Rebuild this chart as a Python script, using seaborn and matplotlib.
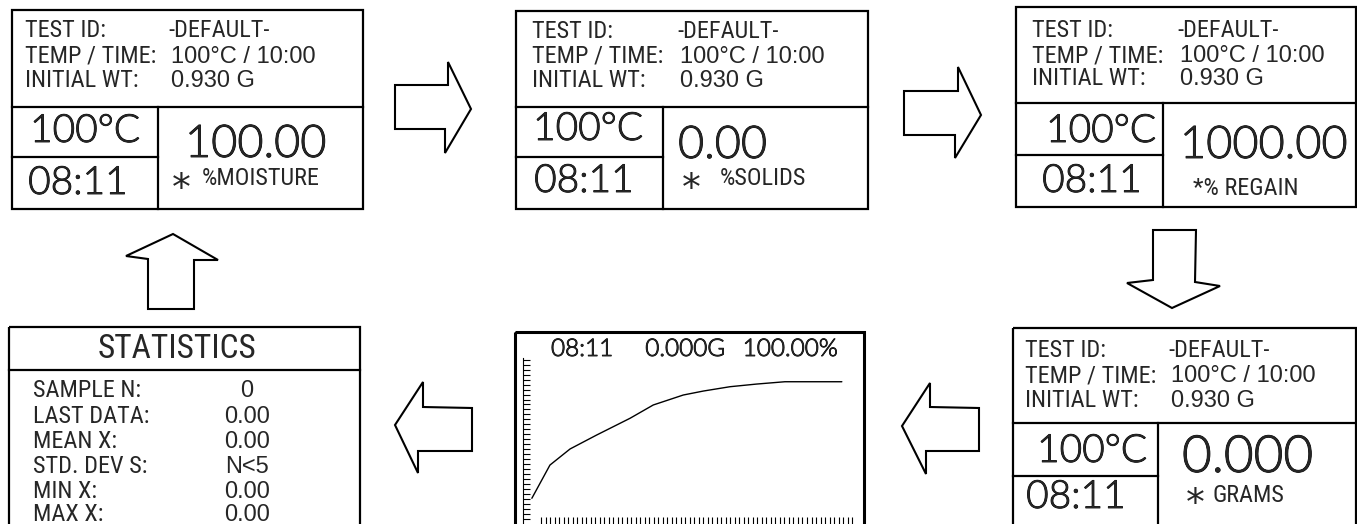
import numpy as np
import matplotlib
matplotlib.use("Agg")
import matplotlib.pyplot as plt
from matplotlib import font_manager as fm
from matplotlib import patheffects as pe
from matplotlib.patches import Rectangle, Polygon
import seaborn as sns

## Screen texts
row_labels = ["TEST ID:", "TEMP / TIME:", "INITIAL WT:"]
row_values = ["-DEFAULT-", "100°C / 10:00", "0.930 G"]
oven_temp = "100°C"
clock = "08:11"
readings = ["100.00", "0.00", "1000.00", "0.000"]
units = ["%MOISTURE", "%SOLIDS", "*% REGAIN", "GRAMS"]

stat_title = "STATISTICS"
stat_labels = ["SAMPLE N:", "LAST DATA:", "MEAN X:", "STD. DEV S:", "MIN X:", "MAX X:"]
stat_values = ["0", "0.00", "0.00", "N<5", "0.00", "0.00"]

graph_header = ["08:11", "0.000G", "100.00%"]

## Drying curve (% of test time, % of scale)
curve_time = [2.6, 7.9, 13.8, 21.6, 31.4, 38.2, 47.0, 52.9, 60.7, 68.5, 76.8, 93.5]
curve_value = [15.5, 35.5, 45.2, 53.6, 63.7, 71.7, 77.7, 80.1, 82.7, 84.3, 85.7, 85.7]

sns.set_theme(style="white")
plt.rcParams["font.family"] = ["Liberation Sans", "DejaVu Sans"]


## pick a condensed face for the labels, if there is one
def find_narrow():
    ok_weight = ("400", "normal", "regular", "book")
    cands = [f for f in fm.fontManager.ttflist
             if f.style == "normal" and str(f.weight).lower() in ok_weight
             and (f.stretch in ("condensed", "semi-condensed", "extra-condensed")
                  or "Narrow" in f.name or "Condensed" in f.name)]
    order = ["Liberation", "Arial", "Roboto", "Noto Sans", "Open Sans", "DejaVu"]

    def rank(f):
        r = next((i for i, o in enumerate(order) if f.name.startswith(o)), len(order))
        return (0 if f.stretch == "condensed" else 1, r)

    cands.sort(key=rank)
    return cands[0].fname if cands else None


narrow_file = find_narrow()
if narrow_file:
    NARROW = dict(fontproperties=fm.FontProperties(fname=narrow_file))
    NS = 17.5
else:
    NARROW = dict(family=["Liberation Sans", "DejaVu Sans"])
    NS = 14.5
REG = ["Liberation Sans", "DejaVu Sans"]
THIN = dict(family=["Lato", "DejaVu Sans"], fontweight=300,
            path_effects=[pe.withStroke(linewidth=0.6, foreground="black")])
LW = 1.6

W, H = 1357, 524
fig = plt.figure(figsize=(W / 100, H / 100), dpi=100)
ax = fig.add_axes([0, 0, 1, 1])
ax.set_xlim(0, W)
ax.set_ylim(H, 0)
ax.axis("off")


def ntext(x, y, s, size, **kw):
    t = ax.text(x, y, s, va="baseline", **NARROW, **kw)
    t.set_fontsize(size)
    return t


def box(x0, y0, x1, y1, lw=LW):
    ax.add_patch(Rectangle((x0, y0), x1 - x0, y1 - y0, fill=False, ec="black", lw=lw))


def line(xs, ys, lw=LW):
    ax.plot(xs, ys, color="black", lw=lw, solid_capstyle="projecting")


## Four result screens
screens = [
    dict(box=(12, 10, 363, 209), div=107, vx=158, split=157, lab_x=25, val_x=168, rows=(37, 63, 87),
         temp=(85, 142), time=(78, 194), read=(185, 157, 32.5), star=(181, 200), unit=(202, 185)),
    dict(box=(516, 11, 868, 209), div=107, vx=663, split=157, lab_x=532, val_x=677, rows=(38, 63, 87),
         temp=(588, 140), time=(584, 192), read=(678, 158, 32.5), star=(691, 200), unit=(720, 185)),
    dict(box=(1016, 7, 1356, 207), div=103, vx=1163, split=155, lab_x=1032, val_x=1177, rows=(37, 62, 85),
         temp=(1101, 142), time=(1092, 192), read=(1180, 158, 32.5), star=None, unit=(1193, 195)),
    dict(box=(1013, 328, 1356, 530), div=423, vx=1158, split=476, lab_x=1025, val_x=1168, rows=(357, 382, 407),
         temp=(1092, 462), time=(1076, 508), read=(1182, 472, 37), star=(1195, 515), unit=(1213, 502)),
]

for s, reading, unit in zip(screens, readings, units):
    x0, y0, x1, y1 = s["box"]
    box(x0, y0, x1, y1)
    line([x0, x1], [s["div"], s["div"]])
    line([s["vx"], s["vx"]], [s["div"], y1])
    line([x0, s["vx"]], [s["split"], s["split"]])
    for k, (lab, val, y) in enumerate(zip(row_labels, row_values, s["rows"])):
        ntext(s["lab_x"], y, lab, NS)
        if k == 0:
            ntext(s["val_x"], y, val, NS)
        else:
            ax.text(s["val_x"] + 3, y, val, family=REG, fontsize=17, va="baseline")
    ax.text(*s["temp"], oven_temp, fontsize=28, ha="center", va="baseline", **THIN)
    ax.text(*s["time"], clock, fontsize=28, ha="center", va="baseline", **THIN)
    rx, ry, rsize = s["read"]
    ax.text(rx, ry, reading, fontsize=rsize, va="baseline", **THIN)
    if s["star"] is not None:
        ax.text(*s["star"], "*", family=["DejaVu Sans"], fontsize=27, ha="center", va="baseline")
    ntext(*s["unit"], unit, NS)

## Statistics screen
box(9, 327, 360, 530)
line([9, 360], [370, 370])
ntext(177, 358, stat_title, 24, ha="center")
for lab, val, y in zip(stat_labels, stat_values, [397, 423, 448, 473, 498, 521]):
    ntext(33, y, lab, NS)
    ax.text(247, y, val, family=REG, fontsize=17, ha="center", va="baseline")

## Graph screen
box(515, 332, 864, 532, lw=2.2)
for txt, x in zip(graph_header, [582, 685, 790]):
    ax.text(x, 356, txt, fontsize=17.5, ha="center", va="baseline", **THIN)

gx0, gx1, gy0 = 523, 864, 358
gax = fig.add_axes([gx0 / W, 0, (gx1 - gx0) / W, (H - gy0) / H])
gax.patch.set_alpha(0)
sns.lineplot(x=curve_time, y=curve_value, ax=gax, color="black", lw=1)
gax.set_xlim(0, 100)
gax.set_ylim(0, 100)
gax.set_xticks(np.linspace(5.3, 96.5, 70))
gax.set_yticks(np.arange(3, 100, 3))
gax.tick_params(direction="in", length=5, width=0.8, color="black", left=True, bottom=True,
                labelleft=False, labelbottom=False)
for side in ["top", "right", "bottom"]:
    gax.spines[side].set_visible(False)
gax.spines["left"].set_color("black")
gax.spines["left"].set_linewidth(0.8)

## Arrows between screens
arrows = [
    [(395, 85), (448, 85), (448, 62), (471, 109), (445, 153), (445, 129), (395, 129)],
    [(904, 91), (958, 91), (958, 67), (981, 115), (955, 158), (955, 135), (904, 135)],
    [(1153, 230), (1196, 230), (1195, 282), (1220, 286), (1172, 308), (1127, 283), (1153, 280)],
    [(902, 426), (930, 383), (930, 407), (979, 408), (979, 451), (926, 451), (926, 474)],
    [(395, 425), (423, 382), (423, 407), (472, 408), (472, 451), (418, 451), (418, 473)],
    [(173, 234), (218, 260), (194, 260), (194, 309), (148, 309), (148, 259), (126, 256)],
]
for pts in arrows:
    ax.add_patch(Polygon(pts, closed=True, fill=False, ec="black", lw=1.5, joinstyle="miter"))

fig.savefig("out.png", dpi=100, facecolor="white")
